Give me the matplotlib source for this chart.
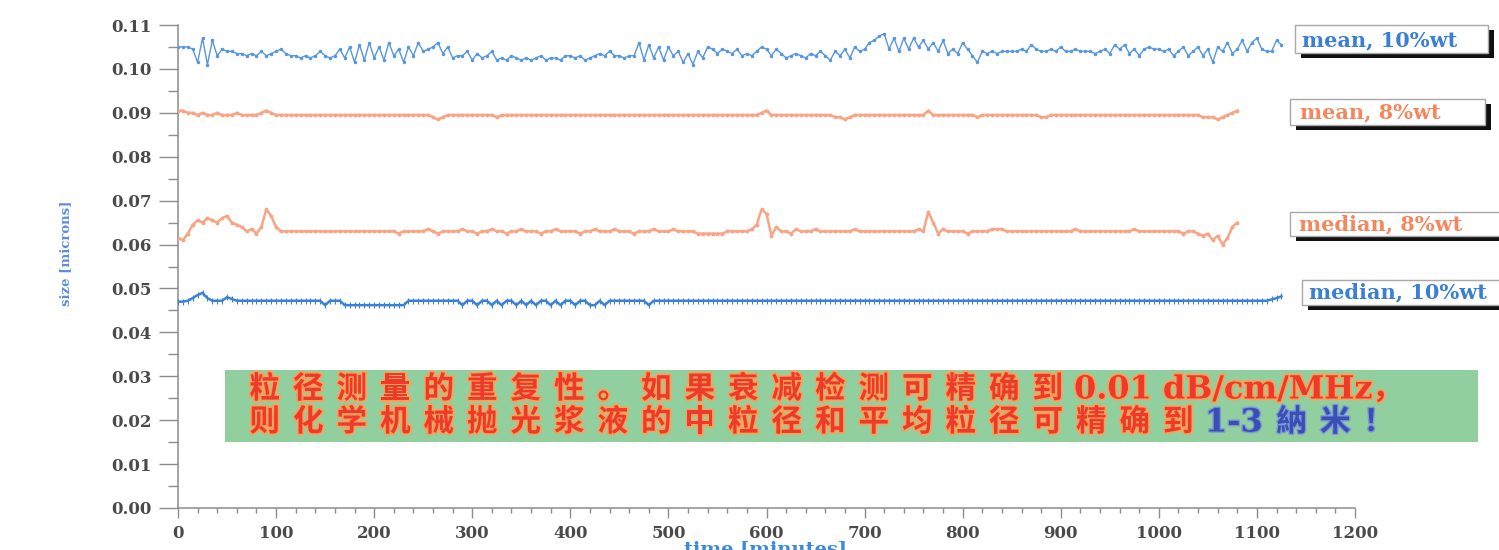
import numpy as np
import matplotlib
matplotlib.use("Agg")
import matplotlib.pyplot as plt
from matplotlib.patches import Rectangle
from matplotlib.ticker import MultipleLocator, FixedLocator, FormatStrFormatter
import matplotlib.patheffects as pe

W, H = 1499, 550
SAMPLE_MIN = 5.0  # sampling interval of the particle-size analyser (minutes)

# ---- measured particle sizes (microns), one value every 5 minutes ----
mean_10wt = [
    0.1050, 0.1050, 0.1050, 0.1045, 0.1015, 0.1070, 0.1010, 0.1065, 0.1030, 0.1045,
    0.1040, 0.1040, 0.1035, 0.1035, 0.1030, 0.1035, 0.1030, 0.1040, 0.1030, 0.1035,
    0.1040, 0.1045, 0.1035, 0.1030, 0.1030, 0.1025, 0.1030, 0.1025, 0.1030, 0.1040,
    0.1030, 0.1025, 0.1030, 0.1045, 0.1025, 0.1050, 0.1015, 0.1055, 0.1020, 0.1060,
    0.1025, 0.1050, 0.1020, 0.1060, 0.1030, 0.1045, 0.1015, 0.1050, 0.1030, 0.1060,
    0.1040, 0.1045, 0.1050, 0.1060, 0.1035, 0.1050, 0.1025, 0.1030, 0.1030, 0.1040,
    0.1020, 0.1035, 0.1025, 0.1030, 0.1040, 0.1020, 0.1025, 0.1020, 0.1030, 0.1025,
    0.1020, 0.1025, 0.1020, 0.1025, 0.1030, 0.1020, 0.1025, 0.1025, 0.1020, 0.1030,
    0.1030, 0.1025, 0.1030, 0.1020, 0.1025, 0.1030, 0.1035, 0.1030, 0.1040, 0.1030,
    0.1030, 0.1025, 0.1030, 0.1030, 0.1060, 0.1020, 0.1055, 0.1025, 0.1050, 0.1020,
    0.1050, 0.1030, 0.1040, 0.1015, 0.1035, 0.1010, 0.1040, 0.1025, 0.1050, 0.1045,
    0.1035, 0.1045, 0.1040, 0.1035, 0.1045, 0.1030, 0.1035, 0.1030, 0.1040, 0.1050,
    0.1045, 0.1030, 0.1045, 0.1035, 0.1025, 0.1030, 0.1035, 0.1030, 0.1025, 0.1035,
    0.1030, 0.1040, 0.1030, 0.1020, 0.1040, 0.1030, 0.1045, 0.1025, 0.1050, 0.1040,
    0.1045, 0.1060, 0.1065, 0.1075, 0.1080, 0.1045, 0.1070, 0.1040, 0.1070, 0.1045,
    0.1070, 0.1050, 0.1065, 0.1045, 0.1060, 0.1040, 0.1065, 0.1035, 0.1045, 0.1035,
    0.1060, 0.1045, 0.1030, 0.1015, 0.1040, 0.1035, 0.1040, 0.1035, 0.1040, 0.1040,
    0.1040, 0.1040, 0.1045, 0.1040, 0.1055, 0.1045, 0.1040, 0.1040, 0.1045, 0.1040,
    0.1050, 0.1040, 0.1040, 0.1045, 0.1040, 0.1040, 0.1040, 0.1035, 0.1040, 0.1045,
    0.1035, 0.1055, 0.1045, 0.1055, 0.1035, 0.1045, 0.1030, 0.1045, 0.1050, 0.1045,
    0.1045, 0.1040, 0.1045, 0.1030, 0.1040, 0.1050, 0.1030, 0.1040, 0.1050, 0.1030,
    0.1045, 0.1015, 0.1050, 0.1040, 0.1060, 0.1035, 0.1045, 0.1065, 0.1040, 0.1060,
    0.1070, 0.1045, 0.1040, 0.1040, 0.1065, 0.1055,
]

mean_8wt = [
    0.0905, 0.0905, 0.0900, 0.0900, 0.0895, 0.0900, 0.0895, 0.0895, 0.0900, 0.0895,
    0.0895, 0.0895, 0.0900, 0.0895, 0.0895, 0.0895, 0.0895, 0.0900, 0.0905, 0.0900,
    0.0895, 0.0895, 0.0895, 0.0895, 0.0895, 0.0895, 0.0895, 0.0895, 0.0895, 0.0895,
    0.0895, 0.0895, 0.0895, 0.0895, 0.0895, 0.0895, 0.0895, 0.0895, 0.0895, 0.0895,
    0.0895, 0.0895, 0.0895, 0.0895, 0.0895, 0.0895, 0.0895, 0.0895, 0.0895, 0.0895,
    0.0895, 0.0895, 0.0890, 0.0885, 0.0890, 0.0895, 0.0895, 0.0895, 0.0895, 0.0895,
    0.0895, 0.0895, 0.0895, 0.0895, 0.0895, 0.0890, 0.0895, 0.0895, 0.0895, 0.0895,
    0.0895, 0.0895, 0.0895, 0.0895, 0.0895, 0.0895, 0.0895, 0.0895, 0.0895, 0.0895,
    0.0895, 0.0895, 0.0895, 0.0895, 0.0895, 0.0895, 0.0895, 0.0895, 0.0895, 0.0895,
    0.0895, 0.0895, 0.0895, 0.0895, 0.0895, 0.0895, 0.0895, 0.0895, 0.0895, 0.0895,
    0.0895, 0.0895, 0.0895, 0.0895, 0.0895, 0.0895, 0.0895, 0.0895, 0.0895, 0.0895,
    0.0895, 0.0895, 0.0895, 0.0895, 0.0895, 0.0895, 0.0895, 0.0895, 0.0895, 0.0900,
    0.0905, 0.0895, 0.0895, 0.0895, 0.0895, 0.0895, 0.0895, 0.0895, 0.0895, 0.0895,
    0.0895, 0.0895, 0.0895, 0.0895, 0.0890, 0.0890, 0.0885, 0.0890, 0.0895, 0.0895,
    0.0895, 0.0895, 0.0895, 0.0895, 0.0895, 0.0895, 0.0895, 0.0895, 0.0895, 0.0895,
    0.0895, 0.0895, 0.0895, 0.0905, 0.0895, 0.0895, 0.0895, 0.0895, 0.0895, 0.0895,
    0.0895, 0.0895, 0.0895, 0.0890, 0.0895, 0.0895, 0.0895, 0.0895, 0.0895, 0.0895,
    0.0895, 0.0895, 0.0895, 0.0895, 0.0895, 0.0895, 0.0890, 0.0890, 0.0895, 0.0895,
    0.0895, 0.0895, 0.0895, 0.0895, 0.0895, 0.0895, 0.0895, 0.0895, 0.0895, 0.0895,
    0.0895, 0.0895, 0.0895, 0.0895, 0.0895, 0.0895, 0.0895, 0.0895, 0.0895, 0.0895,
    0.0895, 0.0895, 0.0895, 0.0895, 0.0895, 0.0895, 0.0895, 0.0895, 0.0895, 0.0890,
    0.0890, 0.0890, 0.0885, 0.0890, 0.0895, 0.0900, 0.0905,
]

median_8wt = [
    0.0615, 0.0610, 0.0625, 0.0645, 0.0655, 0.0650, 0.0660, 0.0655, 0.0650, 0.0660,
    0.0665, 0.0650, 0.0645, 0.0640, 0.0630, 0.0635, 0.0625, 0.0640, 0.0680, 0.0665,
    0.0640, 0.0630, 0.0630, 0.0630, 0.0630, 0.0630, 0.0630, 0.0630, 0.0630, 0.0630,
    0.0630, 0.0630, 0.0630, 0.0630, 0.0630, 0.0630, 0.0630, 0.0630, 0.0630, 0.0630,
    0.0630, 0.0630, 0.0630, 0.0630, 0.0630, 0.0625, 0.0630, 0.0630, 0.0630, 0.0630,
    0.0630, 0.0635, 0.0630, 0.0625, 0.0630, 0.0630, 0.0630, 0.0630, 0.0635, 0.0630,
    0.0630, 0.0625, 0.0630, 0.0630, 0.0635, 0.0630, 0.0630, 0.0625, 0.0630, 0.0630,
    0.0635, 0.0630, 0.0630, 0.0630, 0.0625, 0.0630, 0.0630, 0.0635, 0.0630, 0.0630,
    0.0630, 0.0630, 0.0625, 0.0630, 0.0630, 0.0635, 0.0630, 0.0630, 0.0630, 0.0635,
    0.0630, 0.0630, 0.0630, 0.0625, 0.0630, 0.0630, 0.0630, 0.0635, 0.0630, 0.0630,
    0.0630, 0.0635, 0.0630, 0.0630, 0.0630, 0.0630, 0.0625, 0.0625, 0.0625, 0.0625,
    0.0625, 0.0625, 0.0630, 0.0630, 0.0630, 0.0630, 0.0630, 0.0635, 0.0645, 0.0680,
    0.0670, 0.0620, 0.0640, 0.0630, 0.0630, 0.0625, 0.0635, 0.0630, 0.0630, 0.0630,
    0.0635, 0.0630, 0.0630, 0.0630, 0.0630, 0.0630, 0.0630, 0.0630, 0.0635, 0.0630,
    0.0630, 0.0630, 0.0630, 0.0630, 0.0630, 0.0630, 0.0630, 0.0630, 0.0630, 0.0630,
    0.0630, 0.0635, 0.0630, 0.0675, 0.0650, 0.0625, 0.0635, 0.0630, 0.0630, 0.0630,
    0.0630, 0.0625, 0.0630, 0.0630, 0.0630, 0.0630, 0.0635, 0.0635, 0.0635, 0.0630,
    0.0630, 0.0630, 0.0630, 0.0630, 0.0630, 0.0630, 0.0630, 0.0630, 0.0630, 0.0630,
    0.0630, 0.0630, 0.0630, 0.0635, 0.0630, 0.0630, 0.0630, 0.0630, 0.0630, 0.0630,
    0.0630, 0.0630, 0.0630, 0.0630, 0.0630, 0.0635, 0.0630, 0.0630, 0.0630, 0.0630,
    0.0630, 0.0630, 0.0630, 0.0630, 0.0630, 0.0625, 0.0630, 0.0630, 0.0625, 0.0620,
    0.0625, 0.0610, 0.0620, 0.0600, 0.0615, 0.0640, 0.0650,
]

median_10wt = [
    0.0470, 0.0470, 0.0472, 0.0478, 0.0485, 0.0490, 0.0478, 0.0472, 0.0472, 0.0472,
    0.0480, 0.0476, 0.0472, 0.0472, 0.0472, 0.0472, 0.0472, 0.0472, 0.0472, 0.0472,
    0.0472, 0.0472, 0.0472, 0.0472, 0.0472, 0.0472, 0.0472, 0.0472, 0.0472, 0.0472,
    0.0462, 0.0472, 0.0472, 0.0472, 0.0462, 0.0462, 0.0462, 0.0462, 0.0462, 0.0462,
    0.0462, 0.0462, 0.0462, 0.0462, 0.0462, 0.0462, 0.0462, 0.0472, 0.0472, 0.0472,
    0.0472, 0.0472, 0.0472, 0.0472, 0.0472, 0.0472, 0.0472, 0.0472, 0.0462, 0.0472,
    0.0472, 0.0462, 0.0472, 0.0472, 0.0462, 0.0472, 0.0462, 0.0472, 0.0472, 0.0462,
    0.0472, 0.0462, 0.0472, 0.0462, 0.0472, 0.0472, 0.0462, 0.0472, 0.0462, 0.0472,
    0.0472, 0.0462, 0.0472, 0.0472, 0.0462, 0.0462, 0.0472, 0.0462, 0.0472, 0.0472,
    0.0472, 0.0472, 0.0472, 0.0472, 0.0472, 0.0472, 0.0462, 0.0472, 0.0472, 0.0472,
    0.0472, 0.0472, 0.0472, 0.0472, 0.0472, 0.0472, 0.0472, 0.0472, 0.0472, 0.0472,
    0.0472, 0.0472, 0.0472, 0.0472, 0.0472, 0.0472, 0.0472, 0.0472, 0.0472, 0.0472,
    0.0472, 0.0472, 0.0472, 0.0472, 0.0472, 0.0472, 0.0472, 0.0472, 0.0472, 0.0472,
    0.0472, 0.0472, 0.0472, 0.0472, 0.0472, 0.0472, 0.0472, 0.0472, 0.0472, 0.0472,
    0.0472, 0.0472, 0.0472, 0.0472, 0.0472, 0.0472, 0.0472, 0.0472, 0.0472, 0.0472,
    0.0472, 0.0472, 0.0472, 0.0472, 0.0472, 0.0472, 0.0472, 0.0472, 0.0472, 0.0472,
    0.0472, 0.0472, 0.0472, 0.0472, 0.0472, 0.0472, 0.0472, 0.0472, 0.0472, 0.0472,
    0.0472, 0.0472, 0.0472, 0.0472, 0.0472, 0.0472, 0.0472, 0.0472, 0.0472, 0.0472,
    0.0472, 0.0472, 0.0472, 0.0472, 0.0472, 0.0472, 0.0472, 0.0472, 0.0472, 0.0472,
    0.0472, 0.0472, 0.0472, 0.0472, 0.0472, 0.0472, 0.0472, 0.0472, 0.0472, 0.0472,
    0.0472, 0.0472, 0.0472, 0.0472, 0.0472, 0.0472, 0.0472, 0.0472, 0.0472, 0.0472,
    0.0472, 0.0472, 0.0472, 0.0472, 0.0472, 0.0472, 0.0472, 0.0472, 0.0472, 0.0472,
    0.0472, 0.0472, 0.0472, 0.0475, 0.0478, 0.0482,
]

series_labels = ["mean, 10%wt", "mean, 8%wt", "median, 8%wt", "median, 10%wt"]
x_ticks = [0, 100, 200, 300, 400, 500, 600, 700, 800, 900, 1000, 1100, 1200]
y_ticks = [0.00, 0.01, 0.02, 0.03, 0.04, 0.05, 0.06, 0.07, 0.08, 0.09, 0.10, 0.11]
x_label = "time [minutes]"
y_label = "size [microns]"

note_line1_cjk = "粒径测量的重复性。如果衰减检测可精确到"
note_line1_unit = "0.01 dB/cm/MHz"
note_line1_end = "，"
note_line2_cjk = "则化学机械抛光浆液的中粒径和平均粒径可精确到"
note_line2_num = "1-3"
note_line2_end = "納米！"

BLUE_THIN = "#5797e0"
BLUE_THICK = "#3a82d6"
SALMON = "#f8a585"
AXIS_GREY = "#8c8c8c"
LABEL_GREY = "#4a4a4a"
SERIF = "DejaVu Serif"
CJK = "Noto Sans CJK SC"


def px(x, y):
    """pixel position (origin top-left) -> figure fraction"""
    return x / W, 1.0 - y / H


fig = plt.figure(figsize=(W / 100, H / 100), dpi=100)
fig.patch.set_facecolor("white")

ax_l, ax_b = px(178, 508)
ax_r, ax_t = px(1355, 25)
ax = fig.add_axes([ax_l, ax_b, ax_r - ax_l, ax_t - ax_b])

t10 = np.arange(len(mean_10wt)) * SAMPLE_MIN
t8 = np.arange(len(mean_8wt)) * SAMPLE_MIN

ax.plot(t10, mean_10wt, color=BLUE_THIN, lw=1.0, marker=".", ms=3, zorder=3)
ax.plot(t8, mean_8wt, color=SALMON, lw=1.8, marker=".", ms=3.5, zorder=3)
ax.plot(t8, median_8wt, color=SALMON, lw=1.8, marker=".", ms=3.5, zorder=3)
ax.plot(t10, median_10wt, color=BLUE_THICK, lw=1.8, marker="|", ms=4, mew=0.8, zorder=3)

ax.set_xlim(0, 1200)
ax.set_ylim(0, 0.11)
ax.xaxis.set_major_locator(FixedLocator(x_ticks))
ax.xaxis.set_minor_locator(MultipleLocator(20))
ax.yaxis.set_major_locator(FixedLocator(y_ticks))
ax.yaxis.set_minor_locator(MultipleLocator(0.005))
ax.yaxis.set_major_formatter(FormatStrFormatter("%.2f"))

for side in ("top", "right"):
    ax.spines[side].set_visible(False)
for side in ("left", "bottom"):
    ax.spines[side].set_color(AXIS_GREY)
    ax.spines[side].set_linewidth(1.1)

ax.tick_params(axis="y", which="major", length=14, width=1.0, color=AXIS_GREY, pad=5)
ax.tick_params(axis="y", which="minor", length=7, width=1.0, color=AXIS_GREY)
ax.tick_params(axis="x", which="major", length=7, width=1.0, color=AXIS_GREY, pad=5)
ax.tick_params(axis="x", which="minor", length=3.5, width=1.0, color=AXIS_GREY)
for lab in ax.get_xticklabels() + ax.get_yticklabels():
    lab.set_family(SERIF)
    lab.set_weight("bold")
    lab.set_fontsize(12)
    lab.set_color(LABEL_GREY)

# axis titles
fig.text(*px(66, 253), y_label, rotation=90, ha="center", va="center",
         family=SERIF, weight="bold", fontsize=9.5, color="#5a8fdc")
fig.text(*px(766, 541), x_label, ha="center", va="top",
         family=SERIF, weight="bold", fontsize=14, color="#3a8ae0")


# series tags with drop shadow, at the right end of each trace
def tag(x0, y0, x1, y1, text, color, tx, ty):
    sx, sy = 6, 5
    bl = px(x0 + sx, y1 + sy)
    fig.patches.append(Rectangle(bl, (x1 - x0) / W, (y1 - y0) / H,
                                 transform=fig.transFigure, facecolor="#111111",
                                 edgecolor="none", zorder=5))
    bl = px(x0, y1)
    fig.patches.append(Rectangle(bl, (x1 - x0) / W, (y1 - y0) / H,
                                 transform=fig.transFigure, facecolor="white",
                                 edgecolor="#a8a8a8", lw=1.0, zorder=6))
    fig.text(*px(tx, ty), text, ha="left", va="center", family=SERIF,
             weight="bold", fontsize=15, color=color, zorder=7)


tag(1295, 25, 1488, 53, series_labels[0], "#3a7fd5", 1302, 40)
tag(1290, 99, 1485, 125, series_labels[1], "#f4875e", 1300, 112)
tag(1290, 212, 1530, 236, series_labels[2], "#f4875e", 1299, 224)
tag(1302, 280, 1530, 305, series_labels[3], "#3a7fd5", 1309, 292)

# green note box
bl = px(225, 442)
fig.patches.append(Rectangle(bl, (1478 - 225) / W, (442 - 370) / H,
                             transform=fig.transFigure, facecolor="#92cf9e",
                             edgecolor="none", zorder=5))

RED = "#ee3a2a"
RED_EDGE = [pe.withStroke(linewidth=2.5, foreground="#f7a25a")]
DARK_BLUE = "#3a4fb4"
BLUE_EDGE = [pe.withStroke(linewidth=2.0, foreground="#7d98d8")]
PITCH = 43.5
CJK_SIZE = 22


def cjk_row(text, x_left, y, color, effects):
    for i, ch in enumerate(text):
        fig.text(*px(x_left + PITCH * (i + 0.5), y), ch, ha="center", va="center",
                 family=CJK, weight="bold", fontsize=CJK_SIZE, color=color,
                 path_effects=effects, zorder=8)


Y1, Y2 = 389, 422
cjk_row(note_line1_cjk, 243, Y1, RED, RED_EDGE)
fig.text(*px(1074, Y1 + 1), note_line1_unit, ha="left", va="center", family=SERIF,
         weight="bold", fontsize=23, color=RED, path_effects=RED_EDGE, zorder=8)
fig.text(*px(1372, Y1), note_line1_end, ha="left", va="center", family=CJK,
         weight="bold", fontsize=CJK_SIZE, color=RED, path_effects=RED_EDGE, zorder=8)

cjk_row(note_line2_cjk, 243, Y2, RED, RED_EDGE)
fig.text(*px(1205, Y2 + 1), note_line2_num, ha="left", va="center", family=SERIF,
         weight="bold", fontsize=23, color=DARK_BLUE, path_effects=BLUE_EDGE, zorder=8)
cjk_row(note_line2_end, 1270, Y2, DARK_BLUE, BLUE_EDGE)

fig.savefig("out.png", dpi=100, facecolor="white")
